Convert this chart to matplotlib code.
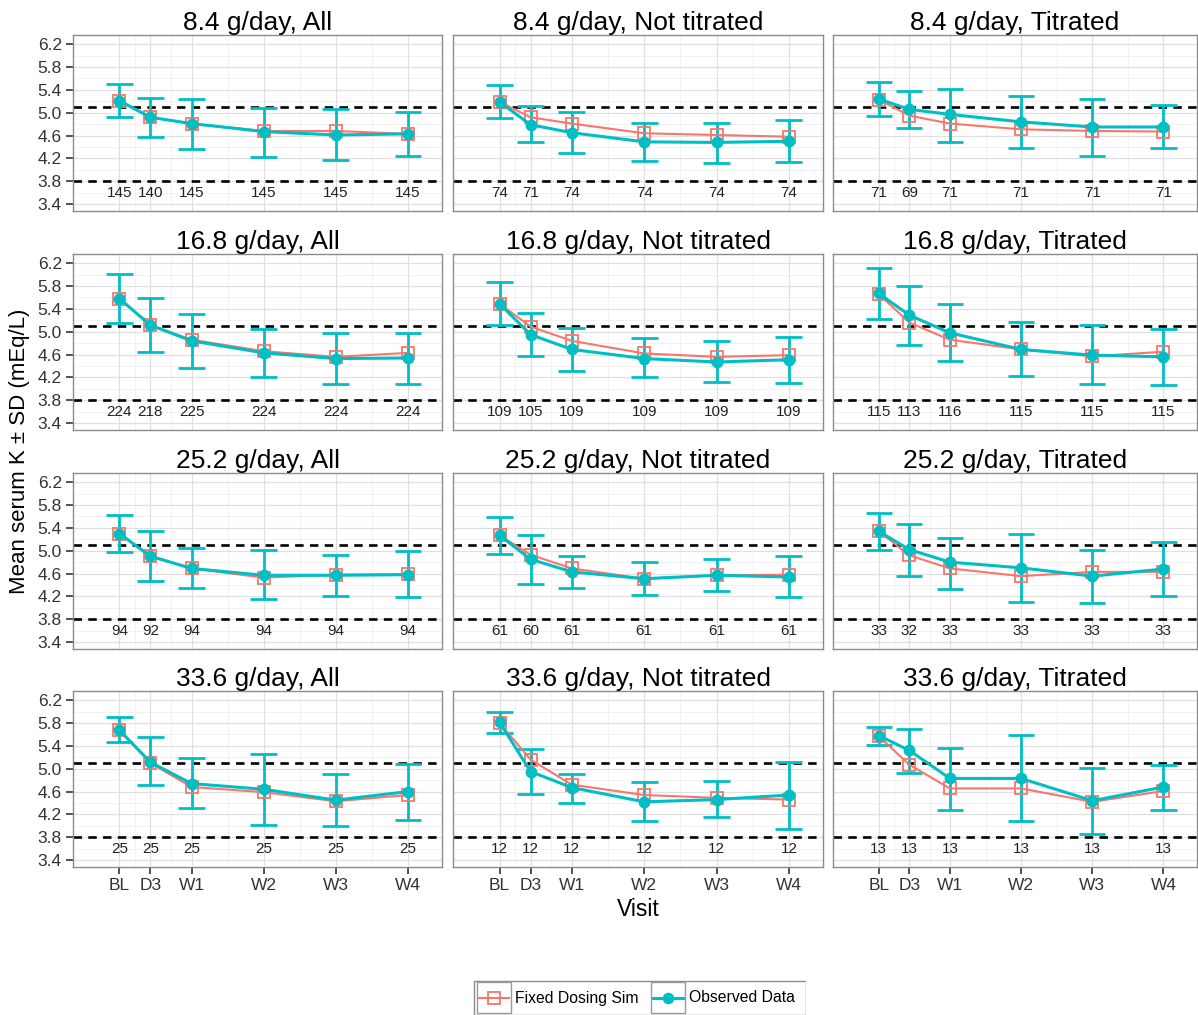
import matplotlib
matplotlib.use("Agg")
import matplotlib.pyplot as plt
from matplotlib.patches import Rectangle

plt.rcParams['font.family'] = ['Liberation Sans', 'DejaVu Sans']

# ---------------- data ----------------
visit_days = [0, 3, 7, 14, 21, 28]
visit_labels = ['BL', 'D3', 'W1', 'W2', 'W3', 'W4']
doses = ['8.4', '16.8', '25.2', '33.6']
groups = ['All', 'Not titrated', 'Titrated']

# each list: [All, Not titrated, Titrated]
sim_84 = [[5.21, 4.92, 4.81, 4.68, 4.68, 4.63],
          [5.19, 4.92, 4.81, 4.64, 4.61, 4.58],
          [5.23, 4.95, 4.81, 4.71, 4.68, 4.67]]
obs_84 = [[5.21, 4.92, 4.81, 4.67, 4.61, 4.63],
          [5.19, 4.79, 4.65, 4.49, 4.48, 4.50],
          [5.24, 5.06, 4.97, 4.84, 4.75, 4.75]]
hi_84 = [[5.51, 5.26, 5.24, 5.09, 5.07, 5.02],
         [5.48, 5.11, 5.01, 4.82, 4.82, 4.88],
         [5.54, 5.38, 5.41, 5.29, 5.24, 5.13]]
lo_84 = [[4.92, 4.58, 4.36, 4.23, 4.17, 4.24],
         [4.90, 4.48, 4.29, 4.16, 4.12, 4.14],
         [4.94, 4.73, 4.49, 4.39, 4.25, 4.38]]
n_84 = [[145, 140, 145, 145, 145, 145],
        [74, 71, 74, 74, 74, 74],
        [71, 69, 71, 71, 71, 71]]

sim_168 = [[5.58, 5.115, 4.86, 4.66, 4.56, 4.63],
           [5.49, 5.09, 4.84, 4.62, 4.56, 4.59],
           [5.66, 5.16, 4.86, 4.69, 4.57, 4.65]]
obs_168 = [[5.58, 5.115, 4.84, 4.63, 4.53, 4.54],
           [5.49, 4.95, 4.69, 4.53, 4.47, 4.51],
           [5.67, 5.29, 4.98, 4.69, 4.59, 4.56]]
hi_168 = [[6.01, 5.59, 5.31, 5.04, 4.98, 4.98],
          [5.87, 5.32, 5.06, 4.89, 4.84, 4.90],
          [6.12, 5.80, 5.49, 5.17, 5.11, 5.05]]
lo_168 = [[5.16, 4.64, 4.37, 4.21, 4.09, 4.09],
          [5.115, 4.57, 4.32, 4.21, 4.12, 4.11],
          [5.22, 4.77, 4.48, 4.23, 4.09, 4.07]]
n_168 = [[224, 218, 225, 224, 224, 224],
         [109, 105, 109, 109, 109, 109],
         [115, 113, 116, 115, 115, 115]]

sim_252 = [[5.30, 4.905, 4.69, 4.53, 4.58, 4.59],
           [5.27, 4.93, 4.69, 4.51, 4.57, 4.58],
           [5.34, 4.92, 4.69, 4.555, 4.63, 4.63]]
obs_252 = [[5.30, 4.905, 4.69, 4.57, 4.57, 4.58],
           [5.27, 4.85, 4.63, 4.51, 4.57, 4.54],
           [5.34, 5.02, 4.80, 4.70, 4.555, 4.68]]
hi_252 = [[5.62, 5.34, 5.04, 5.01, 4.92, 5.00],
          [5.59, 5.27, 4.90, 4.80, 4.86, 4.90],
          [5.66, 5.47, 5.23, 5.30, 5.02, 5.15]]
lo_252 = [[4.97, 4.47, 4.34, 4.15, 4.20, 4.19],
          [4.95, 4.42, 4.35, 4.23, 4.29, 4.19],
          [5.02, 4.56, 4.33, 4.10, 4.08, 4.20]]
n_252 = [[94, 92, 94, 94, 94, 94],
         [61, 60, 61, 61, 61, 61],
         [33, 32, 33, 33, 33, 33]]

sim_336 = [[5.675, 5.10, 4.68, 4.59, 4.43, 4.54],
           [5.80, 5.16, 4.72, 4.54, 4.49, 4.46],
           [5.57, 5.07, 4.655, 4.655, 4.42, 4.61]]
obs_336 = [[5.675, 5.115, 4.74, 4.64, 4.45, 4.60],
           [5.815, 4.95, 4.67, 4.42, 4.46, 4.54],
           [5.58, 5.32, 4.83, 4.83, 4.44, 4.68]]
hi_336 = [[5.90, 5.55, 5.18, 5.25, 4.91, 5.09],
          [6.00, 5.34, 4.91, 4.77, 4.79, 5.115],
          [5.73, 5.69, 5.37, 5.59, 5.01, 5.06]]
lo_336 = [[5.47, 4.72, 4.32, 4.02, 3.995, 4.11],
          [5.62, 4.55, 4.40, 4.09, 4.15, 3.95],
          [5.41, 4.93, 4.27, 4.09, 3.855, 4.27]]
n_336 = [[25, 25, 25, 25, 25, 25],
         [12, 12, 12, 12, 12, 12],
         [13, 13, 13, 13, 13, 13]]

ref_lines = [3.8, 5.1]
y_ticks = [3.4, 3.8, 4.2, 4.6, 5.0, 5.4, 5.8, 6.2]
n_label_y = 3.6

sim_all = [sim_84, sim_168, sim_252, sim_336]
obs_all = [obs_84, obs_168, obs_252, obs_336]
hi_all = [hi_84, hi_168, hi_252, hi_336]
lo_all = [lo_84, lo_168, lo_252, lo_336]
n_all = [n_84, n_168, n_252, n_336]

# ---------------- style ----------------
RED = '#F8766D'
CYAN = '#00BFC4'
W, H = 1198, 1015
fig = plt.figure(figsize=(W / 100, H / 100), dpi=100)

col_x = [(73, 442), (453, 823), (833, 1197)]
row_top = [35, 254, 473, 691]
panel_h = 176

xlim = (-4.5, 31.3)
ylim = (3.28, 6.36)
minor_x = [(visit_days[i] + visit_days[i + 1]) / 2 for i in range(len(visit_days) - 1)]
minor_y = [v + 0.2 for v in y_ticks[:-1]]
cap_w = 1.3

for r in range(4):
    for c in range(3):
        x0, x1 = col_x[c]
        top = row_top[r]
        ax = fig.add_axes([x0 / W, 1 - (top + panel_h) / H, (x1 - x0) / W, panel_h / H])
        ax.set_xlim(*xlim)
        ax.set_ylim(*ylim)
        # grid
        for xv in minor_x:
            ax.axvline(xv, color='#F0F0F0', lw=0.6, zorder=0)
        for yv in minor_y:
            ax.axhline(yv, color='#F0F0F0', lw=0.6, zorder=0)
        for xv in visit_days:
            ax.axvline(xv, color='#E0E0E0', lw=0.9, zorder=0)
        for yv in y_ticks:
            ax.axhline(yv, color='#E0E0E0', lw=0.9, zorder=0)
        for yv in ref_lines:
            ax.axhline(yv, color='black', lw=1.9, ls=(0, (3.2, 2.4)), zorder=1)

        sim = sim_all[r][c]
        obs = obs_all[r][c]
        hi = hi_all[r][c]
        lo = lo_all[r][c]
        ns = n_all[r][c]

        ax.vlines(visit_days, lo, hi, color=CYAN, lw=2.0, zorder=2)
        ax.hlines(hi, [d - cap_w for d in visit_days], [d + cap_w for d in visit_days],
                  color=CYAN, lw=2.0, zorder=2)
        ax.hlines(lo, [d - cap_w for d in visit_days], [d + cap_w for d in visit_days],
                  color=CYAN, lw=2.0, zorder=2)
        ax.plot(visit_days, sim, color=RED, lw=1.5, marker='s', ms=9, mfc='none',
                mec=RED, mew=1.3, zorder=3)
        ax.plot(visit_days, obs, color=CYAN, lw=2.2, marker='o', ms=7.5, mfc=CYAN,
                mec=CYAN, zorder=4)
        for d, nv in zip(visit_days, ns):
            ax.text(d, n_label_y, str(nv), ha='center', va='center', fontsize=11,
                    color='#222222', zorder=5)

        ax.set_title(f'{doses[r]} g/day, {groups[c]}', fontsize=19, pad=3, color='black')
        for sp in ax.spines.values():
            sp.set_color('#8C8C8C')
            sp.set_linewidth(1.0)
        ax.set_yticks(y_ticks)
        ax.set_xticks(visit_days)
        if c == 0:
            ax.set_yticklabels([f'{v:.1f}' for v in y_ticks], fontsize=12.5, color='#333333')
            ax.tick_params(axis='y', length=5, width=1.2, color='#333333', pad=3)
        else:
            ax.tick_params(axis='y', length=0, labelleft=False)
        if r == 3:
            ax.set_xticklabels(visit_labels, fontsize=12.5, color='#333333')
            ax.tick_params(axis='x', length=5, width=1.2, color='#333333', pad=3)
        else:
            ax.tick_params(axis='x', length=0, labelbottom=False)

fig.text(638 / W, 1 - 910 / H, 'Visit', ha='center', va='center', fontsize=16.5)
fig.text(20 / W, 1 - 451 / H, 'Mean serum K ± SD (mEq/L)', ha='center', va='center',
         rotation=90, fontsize=16)

# ---------------- legend ----------------
lx0, lx1, ly0, ly1 = 473, 806, 980, 1015
lax = fig.add_axes([lx0 / W, 1 - ly1 / H, (lx1 - lx0) / W, (ly1 - ly0) / H])
lax.set_xlim(lx0, lx1)
lax.set_ylim(ly1, ly0)
lax.axis('off')
lax.add_patch(Rectangle((lx0 + 0.5, ly0 + 0.5), lx1 - lx0 - 1, ly1 - ly0 - 1, fill=False,
                        ec='#8C8C8C', lw=1.0))
keys = [(477, 'Fixed Dosing Sim', RED, 's', 'none', 1.5), (651, 'Observed Data', CYAN, 'o', CYAN, 2.2)]
for kx, label, col, mk, mfc, lw in keys:
    lax.add_patch(Rectangle((kx, ly0 + 2), 34, 31, fill=False, ec='#9A9A9A', lw=1.0))
    lax.plot([kx + 2, kx + 32], [ly0 + 17.5, ly0 + 17.5], color=col, lw=lw)
    lax.plot([kx + 17], [ly0 + 17.5], marker=mk, ms=8 if mk == 's' else 7, mfc=mfc,
             mec=col, mew=1.3, color=col)
    lax.text(kx + 38, ly0 + 18, label, ha='left', va='center', fontsize=11.3)

fig.savefig('out.png', dpi=100)
